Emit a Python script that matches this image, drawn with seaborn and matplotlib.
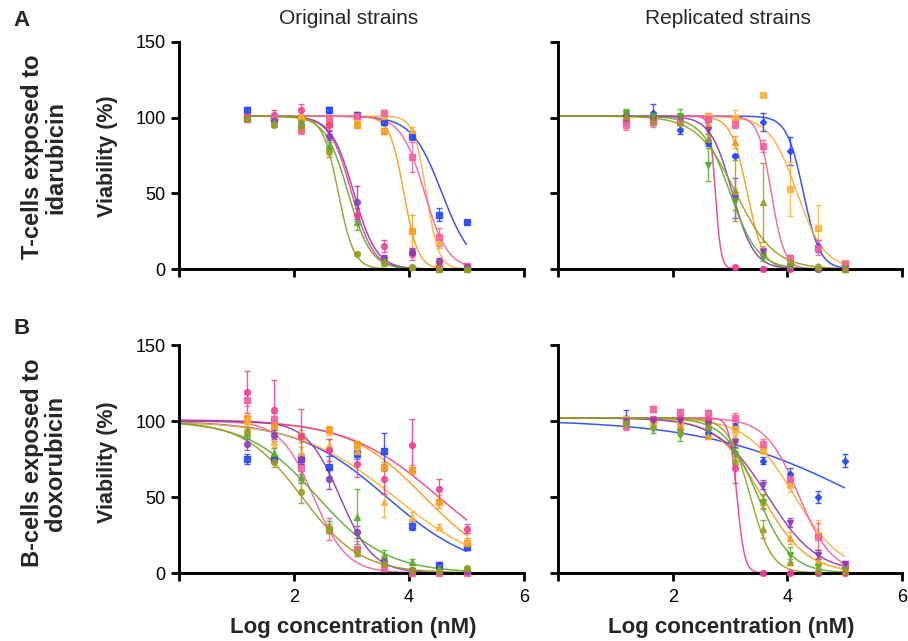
import numpy as np
import pandas as pd
import matplotlib
matplotlib.use('Agg')
import matplotlib.pyplot as plt
import seaborn as sns

sns.set_style('white')
plt.rcParams['font.family'] = ['Liberation Sans', 'DejaVu Sans']

# log concentration (nM) of the 9 doses
log_conc = [1.18, 1.65, 2.13, 2.61, 3.09, 3.57, 4.05, 4.53, 5.0]

strains = ['blue', 'orange1', 'orange2', 'pink1', 'pink2', 'purple', 'green', 'olive']
colors = ['#2443f2', '#f59c1a', '#fbb03b', '#ee3d96', '#f2609f', '#8b3bb5', '#5aab2e', '#9c9c22']
markers_left = ['s', 's', '^', 'o', 's', 'o', '^', 'o']
markers_right = ['D', '^', 's', 'o', 's', 'v', 'v', '^']

# ---- T-cells / idarubicin, original strains
ta_blue = [105, 100, 100, 105, 102, 97, 88, 36, 31]
ta_orange1 = [100, 100, 100, 96, 95, 91, 25, 3, 1]
ta_orange2 = [100, 101, 101, 100, 100, 101, 92, 18, 2]
ta_pink1 = [101, 102, 105, 95, 36, 15, 10, 1, 1]
ta_pink2 = [99, 100, 92, 100, 101, 103, 74, 21, 2]
ta_purple = [100, 98, 95, 88, 44, 7, 11, 5, 1]
ta_green = [100, 97, 97, 81, 31, 5, 1, 0, 0]
ta_olive = [100, 95, 94, 77, 10, 4, 1, 0, 0]
ta_err = [[2, 1, 1, 2, 2, 2, 3, 4, 1],
          [2, 2, 2, 2, 2, 2, 11, 2, 1],
          [1, 1, 1, 1, 1, 1, 2, 4, 1],
          [2, 3, 4, 3, 4, 4, 4, 2, 1],
          [2, 2, 3, 2, 2, 2, 10, 6, 1],
          [2, 3, 2, 3, 11, 2, 2, 2, 1],
          [1, 2, 2, 3, 5, 3, 1, 1, 1],
          [1, 1, 1, 3, 1, 1, 1, 1, 1]]
ta_ic50 = [4.57, 3.91, 4.30, 3.0, 4.27, 3.04, 2.94, 2.77]
ta_hill = [1.67, 3.5, 4.0, 2.3, 2.15, 2.2, 2.2, 3.2]
ta_top = [101] * 8

# ---- T-cells / idarubicin, replicated strains
tb_blue = [102, 103, 92, 83, 75, 97, 78, 15, 1]
tb_orange1 = [100, 99, 97, 95, 84, 12, 2, 1, 0]
tb_orange2 = [98, 99, 100, 101, 100, 115, 53, 27, 4]
tb_pink1 = [98, 100, 100, 99, 1, 0, 0, 0, 0]
tb_pink2 = [95, 97, 98, 99, 96, 81, 7, 14, 3]
tb_purple = [100, 99, 100, 92, 47, 11, 1, 0, 0]
tb_green = [103, 101, 101, 69, 45, 8, 2, 0, 0]
tb_olive = [101, 98, 97, 86, 52, 44, 5, 2, 0]
tb_err = [[2, 6, 3, 2, 1, 6, 9, 4, 1],
          [1, 2, 2, 2, 4, 3, 1, 1, 1],
          [2, 2, 2, 2, 5, 1, 18, 15, 1],
          [2, 2, 2, 2, 1, 1, 1, 1, 1],
          [3, 3, 3, 2, 3, 4, 2, 5, 1],
          [2, 2, 2, 3, 13, 3, 1, 1, 1],
          [3, 3, 5, 11, 6, 3, 2, 1, 1],
          [2, 3, 4, 3, 20, 26, 2, 1, 1]]
tb_ic50 = [4.28, 3.30, 4.17, 2.745, 3.72, 3.04, 3.0, 3.1]
tb_hill = [3.0, 3.1, 1.8, 8.8, 3.8, 2.3, 1.8, 1.3]
tb_top = [101] * 8

# ---- B-cells / doxorubicin, original strains
ba_blue = [75, 75, 75, 70, 78, 80, 31, 5, 17]
ba_orange1 = [101, 97, 90, 94, 84, 70, 68, 47, 20]
ba_orange2 = [100, 86, 79, 84, 80, 47, 37, 30, 21]
ba_pink1 = [119, 107, 90, 81, 72, 62, 84, 55, 29]
ba_pink2 = [114, 101, 69, 29, 16, 3, 0, 0, 0]
ba_purple = [85, 91, 75, 62, 27, 8, 2, 1, 1]
ba_green = [92, 79, 63, 30, 37, 12, 7, 3, 3]
ba_olive = [93, 73, 53, 29, 14, 6, 2, 1, 3]
ba_err = [[3, 2, 3, 7, 3, 12, 3, 2, 2],
          [3, 3, 4, 3, 3, 3, 3, 4, 3],
          [3, 3, 4, 4, 3, 10, 3, 2, 5],
          [14, 20, 18, 7, 9, 10, 17, 7, 3],
          [4, 4, 4, 7, 5, 2, 1, 1, 1],
          [4, 3, 3, 7, 4, 2, 1, 1, 1],
          [3, 3, 4, 4, 18, 3, 2, 1, 1],
          [3, 3, 7, 3, 3, 2, 1, 1, 1]]
ba_ic50 = [3.61, 4.27, 3.75, 4.5, 2.34, 2.8, 2.41, 2.14]
ba_hill = [0.56, 0.66, 0.52, 0.55, 1.5, 1.5, 0.72, 0.86]
ba_top = [100, 100, 100, 101, 100, 100, 100, 100]

# ---- B-cells / doxorubicin, replicated strains
bb_blue = [102, 100, 95, 92, 97, 74, 65, 50, 74]
bb_orange1 = [100, 100, 97, 90, 88, 47, 23, 8, 3]
bb_orange2 = [101, 100, 100, 101, 95, 81, 58, 25, 4]
bb_pink1 = [99, 101, 102, 101, 69, 0, 0, 0, 0]
bb_pink2 = [97, 108, 106, 105, 102, 85, 62, 24, 5]
bb_purple = [100, 100, 100, 98, 86, 58, 33, 12, 6]
bb_green = [98, 95, 91, 95, 78, 47, 12, 4, 2]
bb_olive = [99, 97, 94, 97, 74, 29, 7, 2, 1]
bb_err = [[5, 2, 3, 2, 2, 2, 4, 4, 4],
          [2, 2, 2, 2, 3, 4, 4, 2, 1],
          [2, 2, 2, 2, 3, 3, 5, 10, 2],
          [3, 2, 2, 2, 10, 1, 1, 1, 1],
          [3, 2, 2, 2, 3, 3, 4, 9, 2],
          [2, 2, 2, 2, 3, 3, 3, 3, 2],
          [2, 3, 4, 3, 4, 5, 5, 2, 1],
          [2, 2, 3, 2, 3, 6, 2, 1, 1]]
bb_ic50 = [5.3, 3.55, 4.12, 3.12, 4.2, 3.65, 3.48, 3.35]
bb_hill = [0.32, 1.1, 1.05, 6.5, 1.5, 1.0, 1.5, 2.3]
bb_top = [101, 102, 102, 102, 102, 102, 102, 102]


def four_pl(x, top, ic50, hill):
    # fitted dose-response curve (bottom = 0)
    return top / (1 + 10 ** ((x - ic50) * hill))


panels = [
    ([ta_blue, ta_orange1, ta_orange2, ta_pink1, ta_pink2, ta_purple, ta_green, ta_olive],
     ta_err, ta_ic50, ta_hill, ta_top, 1.18, markers_left),
    ([tb_blue, tb_orange1, tb_orange2, tb_pink1, tb_pink2, tb_purple, tb_green, tb_olive],
     tb_err, tb_ic50, tb_hill, tb_top, 0.0, markers_right),
    ([ba_blue, ba_orange1, ba_orange2, ba_pink1, ba_pink2, ba_purple, ba_green, ba_olive],
     ba_err, ba_ic50, ba_hill, ba_top, 0.0, markers_left),
    ([bb_blue, bb_orange1, bb_orange2, bb_pink1, bb_pink2, bb_purple, bb_green, bb_olive],
     bb_err, bb_ic50, bb_hill, bb_top, 0.0, markers_right),
]

W, H = 908, 641
fig = plt.figure(figsize=(W / 100, H / 100), dpi=100)
rects = [[179 / W, 1 - 269 / H, 345 / W, 227 / H],
         [558 / W, 1 - 269 / H, 344 / W, 227 / H],
         [179 / W, 1 - 573 / H, 345 / W, 228 / H],
         [558 / W, 1 - 573 / H, 344 / W, 228 / H]]

palette = dict(zip(strains, colors))
for k, (vals, errs, ic50, hill, top, x0, mks) in enumerate(panels):
    ax = fig.add_axes(rects[k])
    xs = np.linspace(x0, 5.0, 300)
    rows = []
    for i, s in enumerate(strains):
        ys = four_pl(xs, top[i], ic50[i], hill[i])
        rows.append(pd.DataFrame({'x': xs, 'y': ys, 'strain': s}))
    curves = pd.concat(rows, ignore_index=True)
    sns.lineplot(data=curves, x='x', y='y', hue='strain', palette=palette,
                 hue_order=strains, legend=False, ax=ax, linewidth=1.1,
                 estimator=None, sort=False, alpha=0.9)
    for i, s in enumerate(strains):
        ms = 3.2 if mks[i] == 'D' else 4.2
        ax.errorbar(log_conc, vals[i], yerr=errs[i], fmt=mks[i], color=colors[i],
                    markersize=ms, elinewidth=1.0, capsize=2.5, capthick=1.0,
                    alpha=0.85, clip_on=False, zorder=3)

    ax.set_xlim(0, 6)
    ax.set_ylim(0, 150)
    ax.set_xticks([0, 2, 4, 6])
    ax.set_yticks([0, 50, 100, 150])
    sns.despine(ax=ax)
    for sp in ['left', 'bottom']:
        ax.spines[sp].set_linewidth(2.1)
        ax.spines[sp].set_color('black')
    ax.tick_params(axis='both', direction='out', length=5.5, width=2.0, colors='black',
                   labelsize=13, left=True, bottom=True)
    ax.tick_params(axis='x', pad=6)
    ax.tick_params(axis='y', pad=4)
    ax.set_xlabel('')
    ax.set_ylabel('')
    if k < 2:
        ax.set_xticklabels([])
    else:
        ax.set_xticklabels(['', '2', '4', '6'])
    if k % 2 == 1:
        ax.set_yticklabels([])
    else:
        ax.set_yticklabels(['0', '50', '100', '150'])

fig.text(349 / W, 1 - 18 / H, 'Original strains', ha='center', va='center', fontsize=15)
fig.text(728 / W, 1 - 18 / H, 'Replicated strains', ha='center', va='center', fontsize=15)
for yc in [156, 462]:
    fig.text(108 / W, 1 - yc / H, 'Viability (%)', rotation=90, ha='center', va='center',
             fontsize=15.5, fontweight='bold')
for xc in [353, 731]:
    fig.text(xc / W, 1 - 628 / H, 'Log concentration (nM)', ha='center', va='center',
             fontsize=16, fontweight='bold')
fig.text(44 / W, 1 - 157 / H, 'T-cells exposed to\nidarubicin', rotation=90, ha='center',
         va='center', fontsize=17, fontweight='bold', linespacing=1.05, multialignment='center')
fig.text(44 / W, 1 - 463 / H, 'B-cells exposed to\ndoxorubicin', rotation=90, ha='center',
         va='center', fontsize=17, fontweight='bold', linespacing=1.05, multialignment='center')
fig.text(22 / W, 1 - 20 / H, 'A', ha='center', va='center', fontsize=16, fontweight='bold')
fig.text(22 / W, 1 - 328 / H, 'B', ha='center', va='center', fontsize=16, fontweight='bold')

fig.savefig('out.png', dpi=100)
